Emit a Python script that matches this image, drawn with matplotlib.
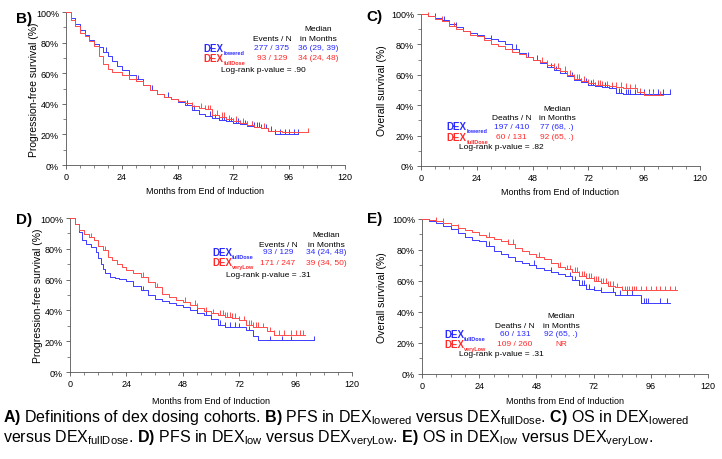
import numpy as np
import matplotlib.pyplot as plt
from matplotlib.ticker import MultipleLocator, FuncFormatter

plt.rcParams['font.family'] = ['Liberation Sans', 'DejaVu Sans']
plt.rcParams['mathtext.fontset'] = 'custom'
plt.rcParams['mathtext.rm'] = 'Liberation Sans'
plt.rcParams['mathtext.it'] = 'Liberation Sans:italic'
plt.rcParams['mathtext.bf'] = 'Liberation Sans:bold'

BLUE = '#3b3bff'
RED = '#ff4a4a'
TXT_BLUE = '#2a2aff'
TXT_RED = '#ff2a2a'

# ---- panel B: PFS, DEX lowered vs DEX fullDose
b_blue_t = [0, 2, 4, 6, 8, 10, 12, 14, 16, 18, 20, 22, 24, 27, 30, 33, 36, 39, 42, 45,
            48, 51, 54, 57, 60, 63, 66, 69, 72, 75, 78, 81, 84, 87, 90]
b_blue_s = [100, 96, 92, 88, 85, 82, 79, 77, 74, 71, 68, 65, 62, 59, 56, 52, 49, 46.5, 44.5, 43,
            41.5, 39.5, 36, 33.5, 32, 30.5, 29.5, 28.5, 27.5, 26.5, 25.5, 25, 24, 22.5, 20.5]
b_blue_end = 100
b_blue_cens = [6, 17, 31, 37, 44, 52, 55, 62, 64, 66, 67, 68, 69, 70, 71, 72, 73, 74, 75, 76,
               77, 78, 80, 81, 82, 83, 84, 86, 88, 90, 92, 94, 96, 98, 100]
b_red_t = [0, 2, 4, 6, 8, 10, 12, 14, 16, 18, 20, 22, 24, 27, 30, 33, 36, 39, 42, 45,
           48, 51, 54, 57, 60, 63, 66, 69, 72, 75, 78, 81, 84, 87, 93]
b_red_s = [100, 95, 91, 86, 84, 81, 78, 71, 66, 63, 61, 60.5, 59, 56.5, 55, 52, 49, 46.5, 44.5, 43,
           42, 40.5, 38.5, 37.5, 36.5, 33, 31.5, 30, 29, 27.5, 26, 25, 24.5, 22.5, 21.5]
b_red_end = 104
b_red_cens = [4, 30, 36, 54, 58, 60, 61, 62, 63, 65, 67, 68, 70, 73, 76, 78, 80, 85, 104]

# ---- panel C: OS, DEX lowered vs DEX fullDose
c_blue_t = [0, 3, 6, 9, 12, 15, 18, 21, 24, 27, 30, 33, 36, 39, 42, 45, 48, 51, 54, 57,
            60, 63, 66, 69, 72, 75, 78, 81, 84, 87]
c_blue_s = [100, 99, 97.5, 96, 93.5, 91.5, 89, 87.5, 86, 84.5, 83.5, 82.5, 80, 77, 74.5, 72, 70, 67.5, 65, 63,
            61.5, 59, 56.5, 55, 53.5, 52.5, 52, 51, 48, 47.5]
c_blue_end = 107
c_blue_cens = [6, 10, 15, 30, 41, 46, 50, 54, 56, 58, 60, 62, 64, 65, 66, 67, 68, 69, 70, 71,
               72, 73, 74, 75, 76, 77, 78, 79, 80, 82, 84, 85, 86, 88, 89, 90, 92, 94, 96, 98,
               100, 102, 104, 107]
c_red_t = [0, 3, 6, 9, 12, 15, 18, 21, 24, 27, 30, 33, 36, 39, 42, 45, 48, 51, 54, 57,
           60, 63, 66, 69, 72, 75, 78, 81, 84, 87, 90, 93, 96]
c_red_s = [100, 98.5, 97, 95.5, 92, 90, 88.5, 86.5, 85.5, 83, 80.5, 79, 77, 75, 73.5, 71.5, 70, 68.5, 66.5, 64.5,
           62.5, 60, 57.5, 56, 54.5, 53.5, 53, 52.5, 52, 51.5, 51, 48.5, 46.5]
c_red_end = 104
c_red_cens = [3, 9, 14, 52, 54, 57, 59, 62, 64, 66, 67, 68, 70, 72, 74, 76, 77, 78, 80, 82,
              84, 86, 88, 90, 92, 94, 96, 98, 100, 103]

# ---- panel D: PFS, DEX fullDose vs DEX veryLow
d_blue_t = [0, 2, 4, 5, 7, 9, 11, 12, 13, 14, 15, 17, 19, 21, 24, 27, 30, 33, 36, 39,
            42, 45, 48, 51, 54, 57, 60, 63, 66, 72, 75, 78, 80]
d_blue_s = [100, 96, 91, 86, 83, 81, 78, 74, 70, 67, 64, 61.5, 61, 60.5, 59, 56, 53, 50, 47.5, 46,
            45, 43.5, 42, 40, 38.5, 37, 34.5, 30.5, 29.5, 29, 27, 23.5, 20.5]
d_blue_end = 104
d_blue_cens = [31, 54, 58, 60, 64, 66, 68, 70, 72, 76, 78, 80, 85, 90, 94, 104]
d_red_t = [0, 2, 4, 6, 8, 10, 12, 14, 16, 18, 20, 22, 24, 27, 30, 33, 36, 39, 42, 45,
           48, 51, 54, 57, 60, 63, 66, 69, 72, 75, 78, 81, 84, 87]
d_red_s = [100, 96, 92, 89.5, 87.5, 85.5, 82, 79, 75, 72.5, 70, 68, 66.5, 64, 62, 58.5, 55, 50.5, 48.5, 47,
           45.5, 43.5, 41.5, 39.5, 38, 37, 36, 35, 33.5, 30.5, 29.5, 29, 26.5, 24]
d_red_end = 100
d_red_cens = [6, 9, 15, 31, 37, 49, 53, 54, 58, 61, 64, 65, 66, 67, 68, 69, 70, 72, 74, 75,
              76, 77, 78, 79, 80, 82, 85, 87, 89, 91, 94, 96, 98, 99]

# ---- panel E: OS, DEX fullDose vs DEX veryLow
e_blue_t = [0, 3, 6, 9, 12, 15, 18, 21, 24, 27, 30, 33, 36, 39, 42, 45, 48, 51, 54, 57,
            60, 63, 66, 69, 72, 75, 81, 92]
e_blue_s = [100, 99, 97.5, 95.5, 93.5, 91, 88.5, 86.5, 86, 82.5, 79.5, 77.5, 75.5, 73, 71.5, 70.5, 68.5, 67, 66, 64.5,
            63, 60.5, 57.5, 55, 54, 53, 51, 46]
e_blue_end = 104
e_blue_cens = [28, 47, 54, 62, 64, 66, 67, 68, 69, 70, 72, 75, 80, 83, 86, 88, 92, 93, 94, 95, 100, 103]
e_red_t = [0, 3, 6, 9, 12, 15, 18, 21, 24, 27, 30, 33, 36, 39, 42, 45, 48, 51, 54, 57,
           60, 63, 66, 69, 72, 75, 78, 81, 84]
e_red_s = [100, 99.5, 98.5, 97.5, 96, 94, 93, 91.5, 89.5, 88.5, 87, 86, 84, 81, 79.5, 77.5, 75.5, 74, 71.5, 69,
           67.5, 66, 63.5, 62, 60, 59, 57, 56, 54]
e_red_end = 107
e_red_cens = [6, 9, 15, 28, 36, 38, 49, 54, 58, 61, 62, 64, 65, 66, 67, 68, 69, 70, 71, 72,
              73, 74, 75, 76, 77, 78, 79, 80, 82, 84, 85, 86, 87, 88, 89, 90, 92, 94, 96, 98,
              100, 102, 104, 106]


def dibujar_km(ax, t, s, fin, censuras, color):
    tt = list(t) + [fin]
    ss = list(s) + [s[-1]]
    ax.step(tt, ss, where='post', color=color, lw=0.7, clip_on=False, zorder=3)
    idx = np.searchsorted(t, censuras, side='right') - 1
    yc = np.array(s)[idx]
    ax.vlines(censuras, yc, yc + 3, color=color, lw=0.7, clip_on=False, zorder=3)


def preparar_ejes(ax, ylabel, ylabel_x, xlabel_y, letra, letra_xy):
    ax.set_xlim(0, 120)
    ax.set_ylim(0, 100)
    ax.spines['top'].set_visible(False)
    ax.spines['right'].set_visible(False)
    for sp in ('left', 'bottom'):
        ax.spines[sp].set_linewidth(0.6)
        ax.spines[sp].set_color('#555555')
    ax.xaxis.set_major_locator(MultipleLocator(24))
    ax.xaxis.set_minor_locator(MultipleLocator(6))
    ax.yaxis.set_major_locator(MultipleLocator(20))
    ax.yaxis.set_minor_locator(MultipleLocator(10))
    ax.yaxis.set_major_formatter(FuncFormatter(lambda v, p: '%d%%' % v))
    ax.tick_params(which='major', length=3, width=0.6, labelsize=6.5, pad=2, color='#555555')
    ax.tick_params(which='minor', length=2, width=0.5, color='#555555')
    ax.set_ylabel(ylabel, fontsize=7.5)
    ax.yaxis.set_label_coords(ylabel_x, 0.5)
    ax.set_xlabel('Months from End of Induction', fontsize=6.5)
    ax.xaxis.set_label_coords(0.5, xlabel_y)
    ax.figure.text(letra_xy[0], letra_xy[1], letra, fontsize=11, fontweight='bold',
                   ha='left', va='center')


def etiqueta_dex(ax, x, y, nombre, color):
    base = ax.text(x, y, 'DEX', fontsize=7, fontweight='bold', color=color,
                   ha='left', va='center')
    ax.annotate(nombre, xy=(1, 0.05), xycoords=base, xytext=(0.3, 0),
                textcoords='offset points', fontsize=4, fontweight='bold',
                color=color, ha='left', va='center')


def leyenda(ax, cab, filas, logrank, xs, ys):
    # xs: dex label x, counts x, median x, logrank x ; ys: median, header, row1, row2, logrank
    x_dex, x_n, x_med, x_lr = xs
    y_med, y_cab, y_r1, y_r2, y_lr = ys
    kw = dict(fontsize=6, va='center', ha='center')
    ax.text(x_med, y_med, 'Median', **kw)
    ax.text(x_med, y_cab, 'in Months', **kw)
    ax.text(x_n, y_cab, cab, **kw)
    for (nombre, n, med, col), y in zip(filas, (y_r1, y_r2)):
        etiqueta_dex(ax, x_dex, y, nombre, col)
        ax.text(x_n, y, n, color=col, **kw)
        ax.text(x_med, y, med, color=col, **kw)
    ax.text(x_lr, y_lr, logrank, **kw)


fig = plt.figure(figsize=(7.22, 4.60), dpi=100)

ax_b = fig.add_axes([0.0914, 0.6391, 0.3864, 0.3326])
ax_c = fig.add_axes([0.5831, 0.6370, 0.3864, 0.3304])
ax_d = fig.add_axes([0.0970, 0.1891, 0.3906, 0.3348])
ax_e = fig.add_axes([0.5845, 0.1848, 0.3961, 0.3370])

dibujar_km(ax_b, b_blue_t, b_blue_s, b_blue_end, b_blue_cens, BLUE)
dibujar_km(ax_b, b_red_t, b_red_s, b_red_end, b_red_cens, RED)
preparar_ejes(ax_b, 'Progression-free survival (%)', -0.097, -0.137, 'B)', (0.022, 0.959))
leyenda(ax_b, 'Events / N',
        [('lowered', '277 / 375', '36 (29, 39)', TXT_BLUE),
         ('fullDose', '93 / 129', '34 (24, 48)', TXT_RED)],
        'Log-rank p-value = .90', (59, 88.6, 108.5, 85), (89.5, 83, 76.5, 70, 62.7))

dibujar_km(ax_c, c_blue_t, c_blue_s, c_blue_end, c_blue_cens, BLUE)
dibujar_km(ax_c, c_red_t, c_red_s, c_red_end, c_red_cens, RED)
preparar_ejes(ax_c, 'Overall survival (%)', -0.122, -0.137, 'C)', (0.508, 0.963))
leyenda(ax_c, 'Deaths / N',
        [('lowered', '197 / 410', '77 (68, .)', TXT_BLUE),
         ('fullDose', '60 / 131', '92 (65, .)', TXT_RED)],
        'Log-rank p-value = .82', (11, 39, 58.5, 34.4), (38, 32, 26.3, 19.3, 13))

dibujar_km(ax_d, d_blue_t, d_blue_s, d_blue_end, d_blue_cens, BLUE)
dibujar_km(ax_d, d_red_t, d_red_s, d_red_end, d_red_cens, RED)
preparar_ejes(ax_d, 'Progression-free survival (%)', -0.096, -0.156, 'D)', (0.022, 0.522))
leyenda(ax_d, 'Events / N',
        [('fullDose', '93 / 129', '34 (24, 48)', TXT_BLUE),
         ('veryLow', '171 / 247', '39 (34, 50)', TXT_RED)],
        'Log-rank p-value = .31', (60.4, 88.5, 109, 84.3), (89, 82.5, 78, 71.4, 63.6))

dibujar_km(ax_e, e_blue_t, e_blue_s, e_blue_end, e_blue_cens, BLUE)
dibujar_km(ax_e, e_red_t, e_red_s, e_red_end, e_red_cens, RED)
preparar_ejes(ax_e, 'Overall survival (%)', -0.122, -0.142, 'E)', (0.508, 0.524))
leyenda(ax_e, 'Deaths / N',
        [('fullDose', '60 / 131', '92 (65, .)', TXT_BLUE),
         ('veryLow', '109 / 260', 'NR', TXT_RED)],
        'Log-rank p-value = .31', (9.2, 39, 58.3, 33.2), (38, 31.6, 25.8, 19.4, 12.9))

linea1 = (r'$\mathbf{A)}$ Definitions of dex dosing cohorts. $\mathbf{B)}$ PFS in DEX$_{\mathrm{lowered}}$ '
          r'versus DEX$_{\mathrm{fullDose}}$. $\mathbf{C)}$ OS in DEX$_{\mathrm{lowered}}$')
linea2 = (r'versus DEX$_{\mathrm{fullDose}}$. $\mathbf{D)}$ PFS in DEX$_{\mathrm{low}}$ versus '
          r'DEX$_{\mathrm{veryLow}}$. $\mathbf{E)}$ OS in DEX$_{\mathrm{low}}$ versus DEX$_{\mathrm{veryLow}}$.')
fig.text(0.004, 0.093, linea1, fontsize=11.5, ha='left', va='center')
fig.text(0.004, 0.047, linea2, fontsize=11.5, ha='left', va='center')

fig.savefig('out.png', dpi=100)
